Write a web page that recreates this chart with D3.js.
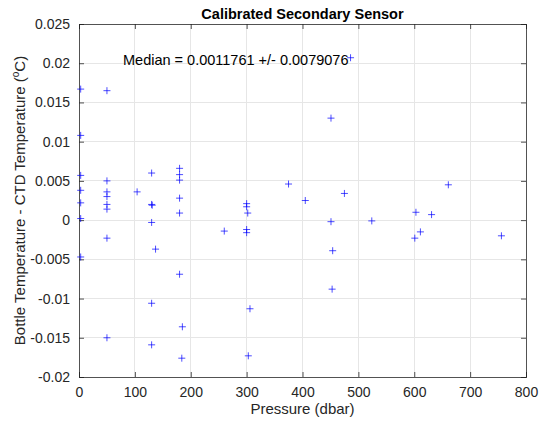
<!DOCTYPE html>
<html><head><meta charset="utf-8">
<script src="https://cdn.jsdelivr.net/npm/d3@7"></script>
<style>body{margin:0;background:#fff;}svg{display:block;font-family:"Liberation Sans",Arial,sans-serif;}</style>
</head><body>
<script>
const pressure = [3,3,3,3,3,3,3,
  50,50,50,50,50,50,50,50,
  104,
  130,130,131,130,130,130,137,
  180,180,180,180,180,180,185,184,
  260,
  300,300,302,300,300,306,303,
  375,405,451,486,475,451,454,453,524,
  603,631,611,601,661,756];
const diffT = [0.0167,0.0108,0.0057,0.0038,0.0022,0.0002,-0.0047,
  0.0165,0.0050,0.0036,0.0030,0.0020,0.0014,-0.0023,-0.0150,
  0.0036,
  0.0060,0.0020,0.0019,-0.0003,-0.0106,-0.0159,-0.0037,
  0.0066,0.0058,0.0051,0.0028,0.0009,-0.0069,-0.0136,-0.0176,
  -0.0014,
  0.0021,0.0017,0.0009,-0.0012,-0.0016,-0.0113,-0.0173,
  0.0046,0.0025,0.0130,0.0207,0.0034,-0.0002,-0.0039,-0.0088,-0.0001,
  0.0010,0.0007,-0.0015,-0.0023,0.0045,-0.0020];
const xTicks = [0,100,200,300,400,500,600,700,800];
const yTicks = [0.025,0.02,0.015,0.01,0.005,0,-0.005,-0.01,-0.015,-0.02];
const yTickLabels = ["0.025","0.02","0.015","0.01","0.005","0","-0.005","-0.01","-0.015","-0.02"];
const titleText = "Calibrated Secondary Sensor";
const medianText = "Median = 0.0011761 +/- 0.0079076";

const W=542,H=421, L=79,R=526,T=24,B=377;
const svg=d3.select("body").append("svg").attr("width",W).attr("height",H);
const x=d3.scaleLinear().domain([0,800]).range([L,R]);
const y=d3.scaleLinear().domain([-0.02,0.025]).range([B,T]);
const axc="#262626";

// grid
svg.append("g").selectAll("line").data(xTicks.slice(1,-1)).join("line")
  .attr("x1",d=>x(d)).attr("x2",d=>x(d)).attr("y1",T).attr("y2",B)
  .attr("stroke","#e6e6e6").attr("stroke-width",1).attr("shape-rendering","crispEdges");
svg.append("g").selectAll("line").data(yTicks.slice(1,-1)).join("line")
  .attr("y1",d=>y(d)).attr("y2",d=>y(d)).attr("x1",L).attr("x2",R)
  .attr("stroke","#e6e6e6").attr("stroke-width",1).attr("shape-rendering","crispEdges");

// axes
const xa=svg.append("g").attr("transform",`translate(0,${B})`)
  .call(d3.axisBottom(x).tickValues(xTicks).tickSize(-5).tickPadding(10).tickFormat(d3.format("d")));
const xt=svg.append("g").attr("transform",`translate(0,${T})`)
  .call(d3.axisTop(x).tickValues(xTicks).tickSize(-5).tickFormat(""));
const ya=svg.append("g").attr("transform",`translate(${L},0)`)
  .call(d3.axisLeft(y).tickValues(yTicks).tickSize(-5).tickPadding(9).tickFormat((d,i)=>yTickLabels[i]));
const yr=svg.append("g").attr("transform",`translate(${R},0)`)
  .call(d3.axisRight(y).tickValues(yTicks).tickSize(-5).tickFormat(""));
[xa,xt,ya,yr].forEach(g=>{
  g.selectAll("path,line").attr("stroke",axc).attr("stroke-width",0.8);
  g.selectAll("text").attr("fill",axc).style("font-size","14px").style("font-family",'"Liberation Sans",Arial,sans-serif');
});

// points
const pts=pressure.map((p,i)=>[p,diffT[i]]);
const s=3.5;
svg.append("g").selectAll("path").data(pts).join("path")
  .attr("d",d=>{const cx=x(d[0]),cy=y(d[1]);return `M${cx-s},${cy}H${cx+s}M${cx},${cy-s}V${cy+s}`;})
  .attr("stroke","#0000ff").attr("stroke-opacity",0.7).attr("stroke-width",1).attr("fill","none");

// text
svg.append("text").attr("x",(L+R)/2).attr("y",19).attr("text-anchor","middle")
  .style("font-weight","bold").style("font-size","14.5px").attr("fill","#000").text(titleText);
svg.append("text").attr("x",123).attr("y",65).style("font-size","14.5px").attr("fill","#000").text(medianText);
svg.append("text").attr("x",(L+R)/2).attr("y",414).attr("text-anchor","middle")
  .style("font-size","15px").attr("fill",axc).text("Pressure (dbar)");
const yl=svg.append("text").attr("transform",`translate(25,${(T+B)/2}) rotate(-90)`).attr("text-anchor","middle")
  .style("font-size","15px").attr("fill",axc);
yl.append("tspan").text("Bottle Temperature - CTD Temperature (");
yl.append("tspan").attr("dy",-6).style("font-size","10px").text("o");
yl.append("tspan").attr("dy",6).text("C)");
</script>
</body></html>
